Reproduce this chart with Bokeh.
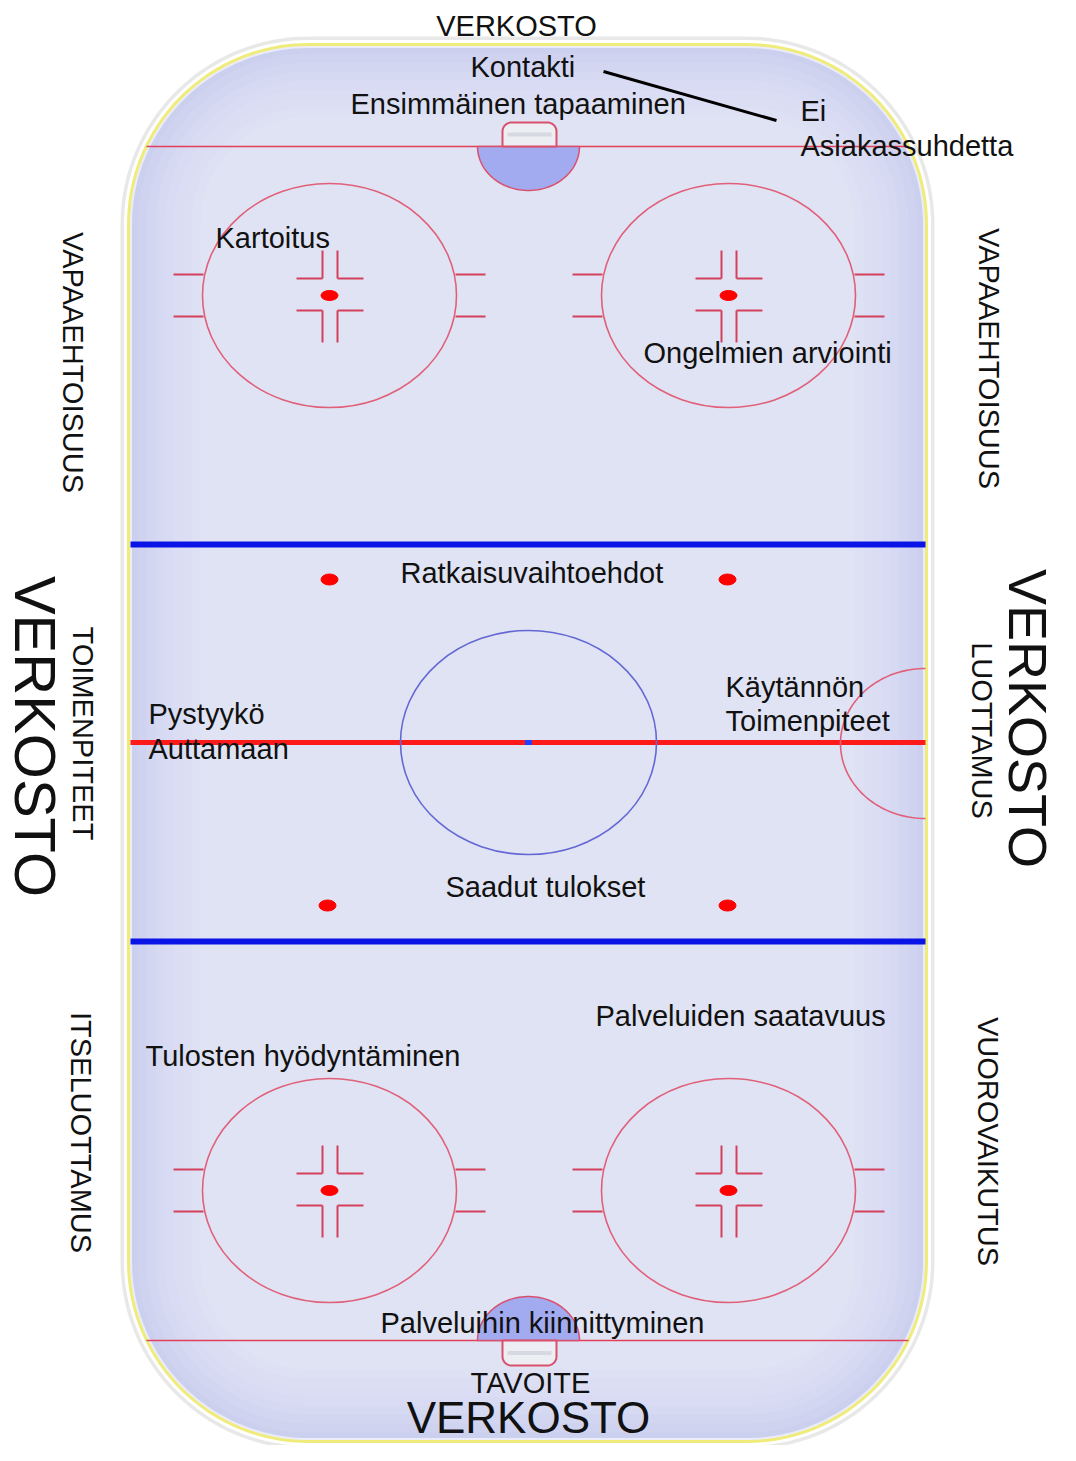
import numpy as np
from bokeh.plotting import figure
from bokeh.models import Range1d, ColumnDataSource
from bokeh.embed import file_html
from bokeh.resources import INLINE
from bokeh.core.properties import value

# ---------------- content ----------------
network_label = "VERKOSTO"
goal_label = "TAVOITE"
zone_labels = ["Kontakti", "Ensimmäinen tapaaminen", "Ei", "Asiakassuhdetta",
               "Kartoitus", "Ongelmien arviointi", "Ratkaisuvaihtoehdot",
               "Käytännön", "Toimenpiteet", "Pystyykö", "Auttamaan",
               "Saadut tulokset", "Palveluiden saatavuus",
               "Tulosten hyödyntäminen", "Palveluihin kiinnittyminen"]
side_labels = ["VAPAAEHTOISUUS", "VAPAAEHTOISUUS", "TOIMENPITEET",
               "LUOTTAMUS", "ITSELUOTTAMUS", "VUOROVAIKUTUS"]

# ---------------- layout (image pixel coordinates) ----------------
zone_x = [470, 350, 800, 800, 215, 643, 400, 725, 725, 148, 148, 445, 595, 145, 380]
zone_y = [66, 103, 110, 145, 237, 352, 572, 686, 720, 713, 748, 886, 1015, 1055, 1322]
side_x = [72, 988, 82, 981, 80, 987]
side_y = [362, 358, 733, 730, 1132, 1141]

faceoff_cx = [329, 728, 329, 728]
faceoff_cy = [295, 295, 1190, 1190]
neutral_cx = [329, 727, 327, 727]
neutral_cy = [579, 579, 905, 905]

W, H = 1060, 1445
def Y(v):
    return 1461 - np.asarray(v, dtype=float)

p = figure(width=W, height=H, x_range=Range1d(0, 1060), y_range=Range1d(16, 1461),
           output_backend="svg", toolbar_location=None, min_border=0)
p.axis.visible = False
p.grid.visible = False
p.outline_line_color = None
p.background_fill_color = "white"
p.border_fill_color = "white"

FONT = value("Liberation Sans")

def rrect(x0, y0, x1, y1, r, n=40):
    xs, ys = [], []
    for cx, cy, a0, a1 in [(x1 - r, y0 + r, -90, 0), (x1 - r, y1 - r, 0, 90),
                           (x0 + r, y1 - r, 90, 180), (x0 + r, y0 + r, 180, 270)]:
        t = np.radians(np.linspace(a0, a1, n))
        xs.extend(cx + r * np.cos(t))
        ys.extend(cy + r * np.sin(t))
    xs.append(xs[0]); ys.append(ys[0])
    return np.array(xs), Y(ys)

# rink
RX0, RY0, RX1, RY1, RR = 128, 44, 926, 1441, 180
bx, by = rrect(RX0, RY0, RX1, RY1, RR)
p.line(bx, by, line_color="#d6d6d6", line_width=16, line_alpha=0.55)
p.line(bx, by, line_color="white", line_width=9)
p.patch(bx, by, fill_color="#ccd0ef", line_color=None)
for i in range(1, 9):
    d = 9 * i
    gx, gy = rrect(RX0 + d, RY0 + d, RX1 - d, RY1 - d, max(RR - d, 12))
    p.patch(gx, gy, fill_color="white", fill_alpha=0.075, line_color=None)
p.line(bx, by, line_color="white", line_width=7, line_alpha=0.6)
p.line(bx, by, line_color="#f0ec7c", line_width=3)

# goal lines
p.segment(x0=[146, 146], y0=Y([146, 1340]), x1=[908, 908], y1=Y([146, 1340]),
          line_color="#e2405a", line_width=1.6)

# creases
for gy_, sgn in [(146, 1), (1340, -1)]:
    t = np.radians(np.linspace(0, 180, 60))
    cx_ = 528 + 51 * np.cos(t)
    cy_ = gy_ + sgn * 44 * np.sin(t)
    p.patch(cx_, Y(cy_), fill_color="#a2abf0", line_color="#d9506c", line_width=1.5)

# nets
for ny0, ny1, top in [(122, 146, True), (1340, 1365, False)]:
    r = 9
    if top:
        t1 = np.radians(np.linspace(180, 270, 12)); t2 = np.radians(np.linspace(270, 360, 12))
        xs = list(502 + r + r * np.cos(t1)) + list(556 - r + r * np.cos(t2)) + [556, 502]
        ys = list(ny0 + r + r * np.sin(t1)) + list(ny0 + r + r * np.sin(t2)) + [ny1, ny1]
    else:
        t1 = np.radians(np.linspace(0, 90, 12)); t2 = np.radians(np.linspace(90, 180, 12))
        xs = [502, 556] + list(556 - r + r * np.cos(t1)) + list(502 + r + r * np.cos(t2))
        ys = [ny0, ny0] + list(ny1 - r + r * np.sin(t1)) + list(ny1 - r + r * np.sin(t2))
    p.patch(xs, Y(ys), fill_color="#eceef3", line_color="#d9506c", line_width=2)
    p.segment(x0=[507], y0=Y([(ny0 + ny1) / 2]), x1=[551], y1=Y([(ny0 + ny1) / 2]),
              line_color="#c8ccd6", line_width=4, line_alpha=0.6)

# faceoff circles
p.ellipse(x=faceoff_cx, y=Y(faceoff_cy), width=254, height=224,
          fill_alpha=0, line_color="#e0607a", line_width=1.6)
hx0, hy0, hx1, hy1 = [], [], [], []
for cx, cy in zip(faceoff_cx, faceoff_cy):
    for dy in (-21, 21):
        hx0 += [cx - 156, cx + 126]; hx1 += [cx - 126, cx + 156]
        hy0 += [cy + dy, cy + dy]; hy1 += [cy + dy, cy + dy]
    for vx in (cx - 7, cx + 8):
        hx0 += [vx, vx]; hx1 += [vx, vx]
        hy0 += [cy - 45, cy + 15]; hy1 += [cy - 17, cy + 47]
    for hy in (cy - 17, cy + 15):
        hx0 += [cx - 33, cx + 8]; hx1 += [cx - 7, cx + 34]
        hy0 += [hy, hy]; hy1 += [hy, hy]
p.segment(x0=hx0, y0=Y(hy0), x1=hx1, y1=Y(hy1), line_color="#d4405c", line_width=2)
p.ellipse(x=faceoff_cx, y=Y(faceoff_cy), width=17, height=10,
          fill_color="#ff0000", line_color="#ff0000")

# blue lines and centre line
p.segment(x0=[130, 130], y0=Y([544, 941]), x1=[925, 925], y1=Y([544, 941]),
          line_color="#0a14e6", line_width=6)
p.segment(x0=[130], y0=Y([742]), x1=[925], y1=Y([742]),
          line_color="#ff1a1a", line_width=5)

# centre circle
p.ellipse(x=[528], y=Y([742]), width=256, height=224, fill_alpha=0,
          line_color="#6468d4", line_width=1.6)
p.rect(x=[528], y=Y([742]), width=7, height=5, fill_color="#2040ff", line_color=None)

# neutral zone dots
p.ellipse(x=neutral_cx, y=Y(neutral_cy), width=17, height=11,
          fill_color="#ff0000", line_color="#ff0000")

# right partial circle
t = np.radians(np.linspace(90, 270, 80))
p.line(925 + 85 * np.cos(t), Y(743 + 75 * np.sin(t)), line_color="#e0607a", line_width=1.6)

# connector line Kontakti -> Ei
p.line([603, 776], Y([71, 120]), line_color="black", line_width=3)

# ---------------- texts ----------------
src = ColumnDataSource(dict(x=zone_x, y=Y(zone_y), t=zone_labels))
p.text(x="x", y="y", text="t", source=src, text_font=FONT, text_font_size="29px",
       text_align="left", text_baseline="middle", text_color="#111111")

p.text(x=[516], y=Y([25]), text=[network_label], text_font=FONT, text_font_size="29px",
       text_align="center", text_baseline="middle", text_color="#111111")
p.text(x=[530], y=Y([1382]), text=[goal_label], text_font=FONT, text_font_size="29px",
       text_align="center", text_baseline="middle", text_color="#111111")
p.text(x=[528], y=Y([1417]), text=[network_label], text_font=FONT, text_font_size="44px",
       text_align="center", text_baseline="middle", text_color="#111111")

ssrc = ColumnDataSource(dict(x=side_x, y=Y(side_y), t=side_labels))
p.text(x="x", y="y", text="t", source=ssrc, angle=-np.pi / 2, text_font=FONT,
       text_font_size="29px", text_align="center", text_baseline="middle",
       text_color="#111111")
p.text(x=[35, 1027], y=Y([736, 718]), text=[network_label, network_label],
       angle=-np.pi / 2, text_font=FONT, text_font_size=["58px", "54px"],
       text_align="center", text_baseline="middle", text_color="#111111")

open("out.html", "w").write(file_html(p, INLINE))
